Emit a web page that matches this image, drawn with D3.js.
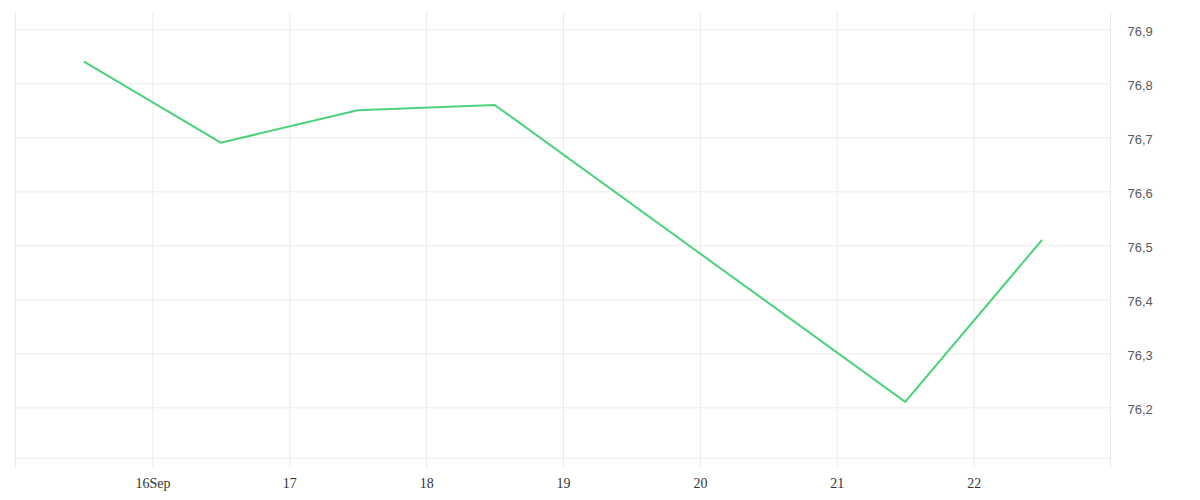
<!DOCTYPE html>
<html>
<head>
<meta charset="utf-8">
<script src="https://cdn.jsdelivr.net/npm/d3@7"></script>
<style>
    body { margin: 0; background: #fff; }
</style>
</head>
<body>
<div id="chart-area"></div>
<script>
// data (daily values, plotted at noon)
var dates = ["2023-09-15", "2023-09-16", "2023-09-17", "2023-09-18", "2023-09-21", "2023-09-22"];
var values = [76.84, 76.69, 76.75, 76.76, 76.21, 76.51];

var xTickDates = ["2023-09-16", "2023-09-17", "2023-09-18", "2023-09-19", "2023-09-20", "2023-09-21", "2023-09-22"];
var xTickLabels = ["16Sep", "17", "18", "19", "20", "21", "22"];
var yTicks = [76.2, 76.3, 76.4, 76.5, 76.6, 76.7, 76.8, 76.9];
var yTickLabels = ["76,2", "76,3", "76,4", "76,5", "76,6", "76,7", "76,8", "76,9"];

var margin = { left: 15.5, right: 89.5, top: 12, bottom: 41.7 };
var width = 1200 - margin.left - margin.right;
var height = 500 - margin.top - margin.bottom;

var parse = d3.utcParse("%Y-%m-%d");
var noon = function(s){ return d3.utcHour.offset(parse(s), 12); };

var svg = d3.select("#chart-area")
    .append("svg")
        .attr("width", 1200)
        .attr("height", 500);

var g = svg.append("g")
    .attr("transform", "translate(" + margin.left + "," + margin.top + ")");

var x = d3.scaleUtc()
    .domain([parse("2023-09-15"), parse("2023-09-23")])
    .range([0, width]);

var y = d3.scaleLinear()
    .domain([76.1056, 76.932])
    .range([height, 0]);

// horizontal grid + right labels
var yAxisCall = d3.axisRight(y)
    .tickValues(yTicks)
    .tickSize(-width)
    .tickPadding(17)
    .tickFormat(function(d, i){ return yTickLabels[i]; });

var yAxis = g.append("g")
    .attr("class", "y axis")
    .attr("transform", "translate(" + width + ",0)")
    .call(yAxisCall);
yAxis.select(".domain").remove();
yAxis.selectAll("line").attr("stroke", "#ebebeb");
yAxis.selectAll("text")
    .attr("font-family", "'Liberation Sans', sans-serif")
    .attr("font-size", "13px")
    .attr("fill", "#5a5a5a")
    .attr("dy", "0.5em");

// bottom gridline
g.append("line")
    .attr("x1", 0).attr("x2", width)
    .attr("y1", height).attr("y2", height)
    .attr("stroke", "#ebebeb");

// vertical grid + bottom labels
var xAxisCall = d3.axisBottom(x)
    .tickValues(xTickDates.map(parse))
    .tickSize(-(height + 10))
    .tickPadding(10)
    .tickFormat(function(d, i){ return xTickLabels[i]; });

var xAxis = g.append("g")
    .attr("class", "x axis")
    .attr("transform", "translate(0," + (height + 10) + ")")
    .call(xAxisCall);
xAxis.select(".domain").remove();
xAxis.selectAll("line").attr("stroke", "#ebebeb");
xAxis.selectAll("text")
    .attr("font-family", "'Liberation Serif', serif")
    .attr("font-size", "14px")
    .attr("fill", "#333");

// edge lines
g.selectAll(".edge")
    .data(x.domain())
    .enter()
    .append("line")
        .attr("class", "edge")
        .attr("x1", function(d){ return x(d); })
        .attr("x2", function(d){ return x(d); })
        .attr("y1", 0)
        .attr("y2", height + 10)
        .attr("stroke", "#ebebeb");

var line = d3.line()
    .x(function(d, i){ return x(noon(dates[i])); })
    .y(function(d){ return y(d); });

g.append("path")
    .datum(values)
    .attr("fill", "none")
    .attr("stroke", "#4cd27b")
    .attr("stroke-width", 2)
    .attr("d", line);
</script>
</body>
</html>
